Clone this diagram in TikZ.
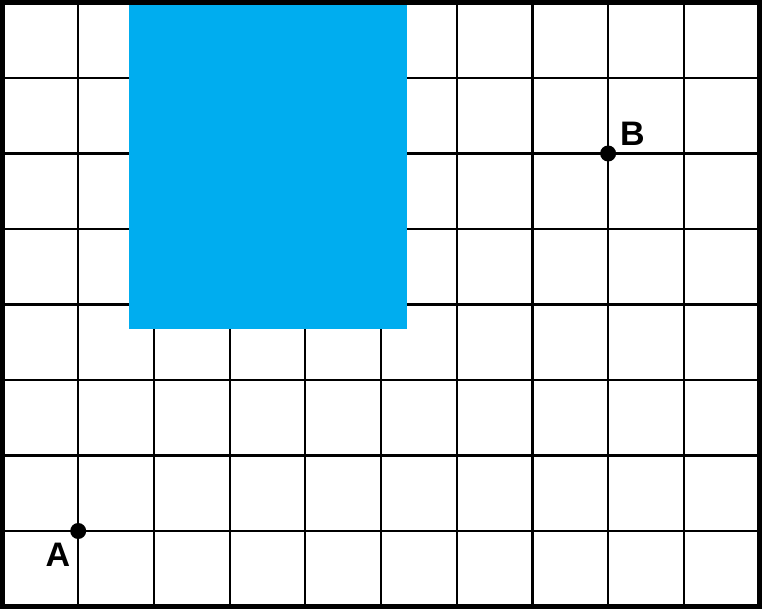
\documentclass[tikz,border=0pt]{standalone}
\usepackage{fontspec}
\setmainfont{Liberation Sans}
\definecolor{skyblue}{RGB}{0,173,239}
\begin{document}
\begin{tikzpicture}[x=1pt,y=1pt,
  gridline/.style={line width=2.2pt,black},
  frame/.style={line width=5pt,black},
  dot/.style={circle,fill=black,inner sep=0pt,minimum size=16pt},
  lbl/.style={font=\fontsize{34}{34}\selectfont\bfseries,inner sep=0pt}]
\useasboundingbox (0,0) rectangle (762,609);
\fill[white] (0,0) rectangle (762,609);
% grid
\foreach \i in {1,...,9} {
  \draw[gridline] ({2.5+75.7*\i},2.5) -- ({2.5+75.7*\i},606.5);
}
\foreach \j in {1,...,7} {
  \draw[gridline] (2.5,{2.5+75.5*\j}) -- (759.5,{2.5+75.5*\j});
}
% blue square
\fill[skyblue] (129,280) rectangle (407,606);
% frame
\draw[frame] (2.5,2.5) rectangle (759.5,606.5);
% points
\node[dot] (A) at (78.2,78) {};
\node[dot] (B) at (608.1,455.5) {};
\node[lbl] (la) at (58,54) {A};
\node[lbl] (lb) at (632.5,475) {B};
\end{tikzpicture}
\end{document}
